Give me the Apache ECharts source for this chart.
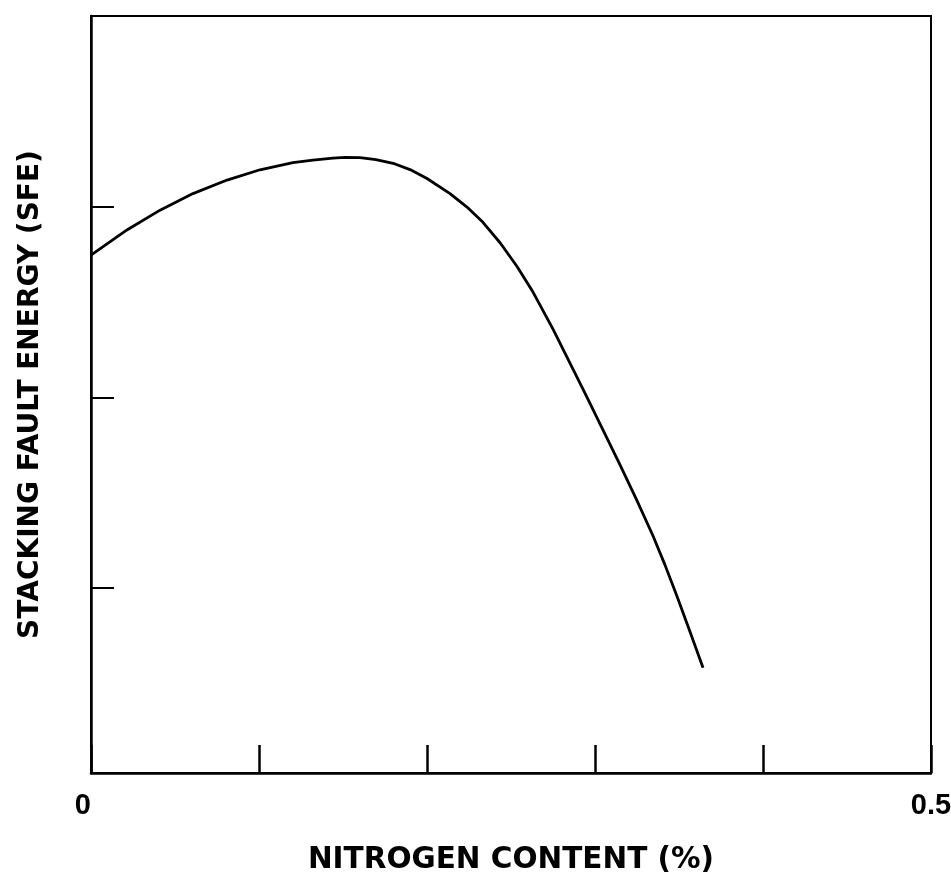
<!DOCTYPE html>
<html>
<head>
<meta charset="utf-8">
<title>Stacking fault energy vs nitrogen content</title>
<script src="https://cdn.jsdelivr.net/npm/echarts@6/dist/echarts.min.js"></script>
<style>
  html, body { margin: 0; padding: 0; background: #fff; }
  #chart { width: 951px; height: 873px; }
</style>
</head>
<body>
<div id="chart"></div>
<script>
// Nitrogen content (%) along the curve
const nitrogen = [0.0000, 0.0214, 0.0411, 0.0607, 0.0810, 0.1006, 0.1202, 0.1321,
                  0.1440, 0.1512, 0.1601, 0.1696, 0.1798, 0.1899, 0.2000, 0.2137,
                  0.2238, 0.2333, 0.2435, 0.2536, 0.2631, 0.2750, 0.2851, 0.2952,
                  0.3048, 0.3149, 0.3250, 0.3345, 0.3417, 0.3488, 0.3565, 0.3643];
// Stacking fault energy (arbitrary units)
const sfe = [2.748, 2.880, 2.984, 3.071, 3.142, 3.196, 3.234, 3.247,
             3.257, 3.261, 3.260, 3.249, 3.230, 3.197, 3.150, 3.071,
             3.000, 2.920, 2.813, 2.688, 2.554, 2.360, 2.181, 2.003,
             1.830, 1.647, 1.460, 1.275, 1.121, 0.957, 0.773, 0.582];
// Unlabelled tick marks on the energy axis
const sfeTicks = [1, 2, 3];
// Only the ends of the x axis carry labels
const xLabels = { 0: '0', 0.5: '0.5' };

const points = nitrogen.map((x, i) => [x, sfe[i]]);

const chart = echarts.init(document.getElementById('chart'));
chart.setOption({
  backgroundColor: '#ffffff',
  animation: false,
  grid: {
    left: 91, right: 20, top: 16, bottom: 100,
    outerBoundsMode: 'none', containLabel: false,
    show: true, borderColor: '#000', borderWidth: 2, backgroundColor: 'transparent'
  },
  xAxis: {
    type: 'value', min: 0, max: 0.5, interval: 0.1,
    name: 'NITROGEN CONTENT (%)', nameLocation: 'middle', nameGap: 72,
    nameTextStyle: { fontFamily: 'DejaVu Sans', fontWeight: 'bold', fontSize: 29.5, color: '#000' },
    axisLine: { show: true, onZero: false, lineStyle: { color: '#000', width: 2.5 } },
    axisTick: { show: true, inside: true, length: 28, lineStyle: { color: '#000', width: 2.5 } },
    splitLine: { show: false },
    axisLabel: {
      margin: 18, color: '#000', fontFamily: 'Liberation Sans', fontWeight: 'bold', fontSize: 29,
      alignMinLabel: 'right', alignMaxLabel: 'center',
      formatter: v => {
        const k = Math.round(v * 10) / 10;
        return xLabels[k] !== undefined ? xLabels[k] : '';
      }
    }
  },
  yAxis: {
    type: 'value', min: 0.03, max: 4.003,
    name: 'STACKING FAULT ENERGY (SFE)', nameLocation: 'middle', nameGap: 46, nameRotate: 90,
    nameTextStyle: { fontFamily: 'DejaVu Sans', fontWeight: 'bold', fontSize: 28, color: '#000' },
    axisLine: { show: true, onZero: false, lineStyle: { color: '#000', width: 2.5 } },
    axisTick: {
      show: true, inside: true, length: 23, customValues: sfeTicks,
      lineStyle: { color: '#000', width: 2 }
    },
    splitLine: { show: false },
    axisLabel: { show: false }
  },
  series: [{
    type: 'line',
    data: points,
    smooth: false,
    showSymbol: false,
    lineStyle: { color: '#000', width: 2.8, join: 'round' }
  }]
});
</script>
</body>
</html>
